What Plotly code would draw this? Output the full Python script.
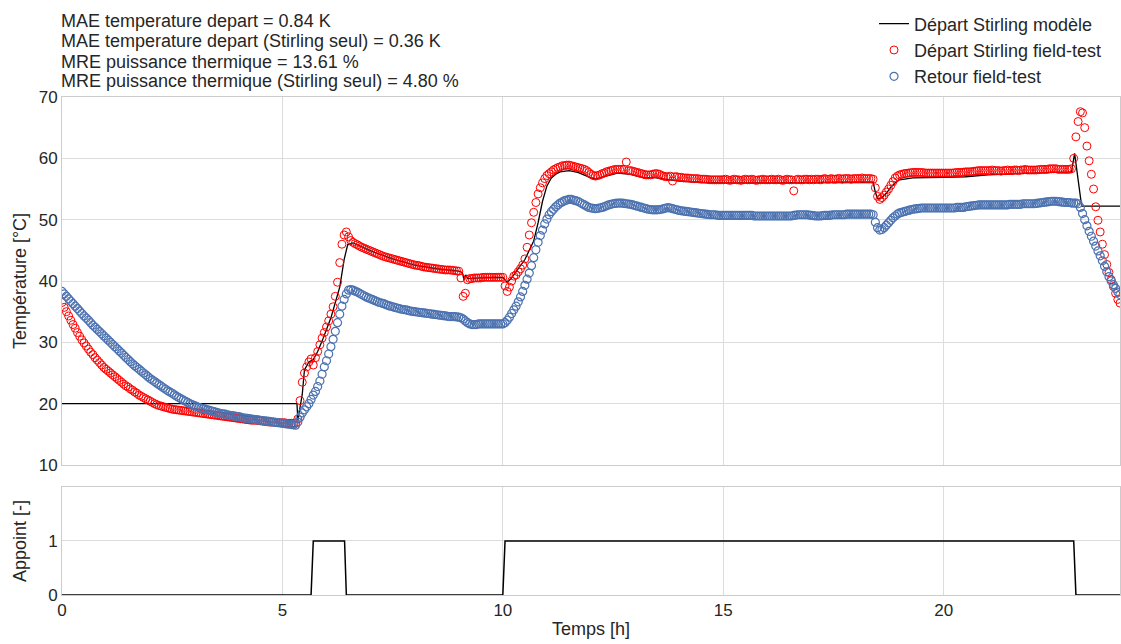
import plotly.graph_objects as go
from plotly.subplots import make_subplots

# ---------------- data ----------------
# sampling times [h] (every 3 minutes)
temps_h = [
    0.00, 0.05, 0.10, 0.15, 0.20, 0.25, 0.30, 0.35, 0.40, 0.45, 0.50, 0.55, 0.60, 0.65, 0.70, 0.75, 0.80, 0.85, 0.90, 0.95,
    1.00, 1.05, 1.10, 1.15, 1.20, 1.25, 1.30, 1.35, 1.40, 1.45, 1.50, 1.55, 1.60, 1.65, 1.70, 1.75, 1.80, 1.85, 1.90, 1.95,
    2.00, 2.05, 2.10, 2.15, 2.20, 2.25, 2.30, 2.35, 2.40, 2.45, 2.50, 2.55, 2.60, 2.65, 2.70, 2.75, 2.80, 2.85, 2.90, 2.95,
    3.00, 3.05, 3.10, 3.15, 3.20, 3.25, 3.30, 3.35, 3.40, 3.45, 3.50, 3.55, 3.60, 3.65, 3.70, 3.75, 3.80, 3.85, 3.90, 3.95,
    4.00, 4.05, 4.10, 4.15, 4.20, 4.25, 4.30, 4.35, 4.40, 4.45, 4.50, 4.55, 4.60, 4.65, 4.70, 4.75, 4.80, 4.85, 4.90, 4.95,
    5.00, 5.05, 5.10, 5.15, 5.20, 5.25, 5.30, 5.35, 5.40, 5.45, 5.50, 5.55, 5.60, 5.65, 5.70, 5.75, 5.80, 5.85, 5.90, 5.95,
    6.00, 6.05, 6.10, 6.15, 6.20, 6.25, 6.30, 6.35, 6.40, 6.45, 6.50, 6.55, 6.60, 6.65, 6.70, 6.75, 6.80, 6.85, 6.90, 6.95,
    7.00, 7.05, 7.10, 7.15, 7.20, 7.25, 7.30, 7.35, 7.40, 7.45, 7.50, 7.55, 7.60, 7.65, 7.70, 7.75, 7.80, 7.85, 7.90, 7.95,
    8.00, 8.05, 8.10, 8.15, 8.20, 8.25, 8.30, 8.35, 8.40, 8.45, 8.50, 8.55, 8.60, 8.65, 8.70, 8.75, 8.80, 8.85, 8.90, 8.95,
    9.00, 9.05, 9.10, 9.15, 9.20, 9.25, 9.30, 9.35, 9.40, 9.45, 9.50, 9.55, 9.60, 9.65, 9.70, 9.75, 9.80, 9.85, 9.90, 9.95,
    10.00, 10.05, 10.10, 10.15, 10.20, 10.25, 10.30, 10.35, 10.40, 10.45, 10.50, 10.55, 10.60, 10.65, 10.70, 10.75, 10.80, 10.85, 10.90, 10.95,
    11.00, 11.05, 11.10, 11.15, 11.20, 11.25, 11.30, 11.35, 11.40, 11.45, 11.50, 11.55, 11.60, 11.65, 11.70, 11.75, 11.80, 11.85, 11.90, 11.95,
    12.00, 12.05, 12.10, 12.15, 12.20, 12.25, 12.30, 12.35, 12.40, 12.45, 12.50, 12.55, 12.60, 12.65, 12.70, 12.75, 12.80, 12.85, 12.90, 12.95,
    13.00, 13.05, 13.10, 13.15, 13.20, 13.25, 13.30, 13.35, 13.40, 13.45, 13.50, 13.55, 13.60, 13.65, 13.70, 13.75, 13.80, 13.85, 13.90, 13.95,
    14.00, 14.05, 14.10, 14.15, 14.20, 14.25, 14.30, 14.35, 14.40, 14.45, 14.50, 14.55, 14.60, 14.65, 14.70, 14.75, 14.80, 14.85, 14.90, 14.95,
    15.00, 15.05, 15.10, 15.15, 15.20, 15.25, 15.30, 15.35, 15.40, 15.45, 15.50, 15.55, 15.60, 15.65, 15.70, 15.75, 15.80, 15.85, 15.90, 15.95,
    16.00, 16.05, 16.10, 16.15, 16.20, 16.25, 16.30, 16.35, 16.40, 16.45, 16.50, 16.55, 16.60, 16.65, 16.70, 16.75, 16.80, 16.85, 16.90, 16.95,
    17.00, 17.05, 17.10, 17.15, 17.20, 17.25, 17.30, 17.35, 17.40, 17.45, 17.50, 17.55, 17.60, 17.65, 17.70, 17.75, 17.80, 17.85, 17.90, 17.95,
    18.00, 18.05, 18.10, 18.15, 18.20, 18.25, 18.30, 18.35, 18.40, 18.45, 18.50, 18.55, 18.60, 18.65, 18.70, 18.75, 18.80, 18.85, 18.90, 18.95,
    19.00, 19.05, 19.10, 19.15, 19.20, 19.25, 19.30, 19.35, 19.40, 19.45, 19.50, 19.55, 19.60, 19.65, 19.70, 19.75, 19.80, 19.85, 19.90, 19.95,
    20.00, 20.05, 20.10, 20.15, 20.20, 20.25, 20.30, 20.35, 20.40, 20.45, 20.50, 20.55, 20.60, 20.65, 20.70, 20.75, 20.80, 20.85, 20.90, 20.95,
    21.00, 21.05, 21.10, 21.15, 21.20, 21.25, 21.30, 21.35, 21.40, 21.45, 21.50, 21.55, 21.60, 21.65, 21.70, 21.75, 21.80, 21.85, 21.90, 21.95,
    22.00, 22.05, 22.10, 22.15, 22.20, 22.25, 22.30, 22.35, 22.40, 22.45, 22.50, 22.55, 22.60, 22.65, 22.70, 22.75, 22.80, 22.85, 22.90, 22.95,
    23.00, 23.05, 23.10, 23.15, 23.20, 23.25, 23.30, 23.35, 23.40, 23.45, 23.50, 23.55, 23.60, 23.65, 23.70, 23.75, 23.80, 23.85, 23.90, 23.95,
    24.00,
]

# Départ Stirling field-test [°C]
depart_field = [
    36.5, 35.7, 35.0, 34.3, 33.6, 32.9, 32.3, 31.6, 31.0, 30.4, 29.9, 29.4, 28.9, 28.4, 28.0, 27.5, 27.1, 26.7, 26.3, 25.9,
    25.6, 25.3, 25.0, 24.7, 24.4, 24.1, 23.8, 23.5, 23.2, 22.9, 22.7, 22.4, 22.2, 21.9, 21.7, 21.4, 21.2, 21.0, 20.8, 20.6,
    20.4, 20.2, 20.0, 19.85, 19.7, 19.6, 19.5, 19.4, 19.3, 19.2, 19.1, 19.05, 19.0, 18.95, 18.9, 18.85, 18.8, 18.75, 18.7, 18.65,
    18.6, 18.55, 18.5, 18.45, 18.4, 18.35, 18.3, 18.25, 18.2, 18.15, 18.1, 18.05, 18.0, 17.95, 17.9, 17.85, 17.8, 17.75, 17.7, 17.65,
    17.6, 17.55, 17.5, 17.45, 17.4, 17.35, 17.3, 17.3, 17.3, 17.25, 17.2, 17.15, 17.1, 17.05, 17.0, 17.0, 17.0, 16.95, 16.9, 16.9,
    16.9, 16.9, 16.8, 16.8, 16.8, 16.8, 16.8, 17.5, 20.5, 23.5, 25.0, 26.0, 26.8, 27.3, 26.3, 27.5, 28.5, 29.6, 30.7, 31.6,
    32.5, 33.5, 34.6, 35.8, 37.5, 39.8, 43.0, 46.0, 47.5, 48.0, 47.2, 46.6, 46.3, 46.1, 45.9, 45.7, 45.5, 45.35, 45.2, 45.05,
    44.9, 44.75, 44.6, 44.45, 44.3, 44.15, 44.0, 43.9, 43.8, 43.7, 43.6, 43.5, 43.4, 43.3, 43.2, 43.1, 43.0, 42.9, 42.8, 42.7,
    42.6, 42.55, 42.5, 42.4, 42.3, 42.25, 42.2, 42.15, 42.1, 42.05, 42.0, 41.95, 41.9, 41.85, 41.8, 41.8, 41.8, 41.75, 41.7, 41.65,
    41.6, 40.5, 37.5, 38.0, 40.2, 40.4, 40.4, 40.5, 40.5, 40.5, 40.5, 40.6, 40.6, 40.6, 40.6, 40.6, 40.6, 40.6, 40.6, 40.6,
    40.6, 39.2, 38.3, 39.0, 40.0, 40.8, 41.0, 41.5, 42.0, 42.6, 43.6, 45.5, 47.5, 49.5, 51.2, 52.8, 54.2, 55.2, 56.0, 56.7,
    57.2, 57.5, 57.8, 58.1, 58.3, 58.5, 58.6, 58.8, 58.8, 58.9, 58.9, 58.8, 58.7, 58.6, 58.5, 58.4, 58.3, 58.2, 58.0, 57.7,
    57.4, 57.2, 57.1, 57.2, 57.3, 57.5, 57.6, 57.8, 57.9, 58.0, 58.1, 58.2, 58.2, 58.2, 58.2, 58.2, 59.4, 58.0, 58.0, 57.9,
    57.8, 57.7, 57.6, 57.5, 57.4, 57.3, 57.3, 57.3, 57.4, 57.5, 57.5, 57.4, 57.2, 57.1, 57.0, 57.0, 57.1, 56.3, 57.0, 57.0,
    56.9, 56.9, 56.8, 56.8, 56.8, 56.75, 56.7, 56.7, 56.7, 56.65, 56.6, 56.6, 56.6, 56.55, 56.5, 56.5, 56.5, 56.5, 56.5, 56.5,
    56.5, 56.6, 56.5, 56.4, 56.5, 56.6, 56.5, 56.5, 56.4, 56.5, 56.6, 56.5, 56.5, 56.6, 56.5, 56.4, 56.5, 56.5, 56.6, 56.5,
    56.5, 56.5, 56.6, 56.5, 56.5, 56.6, 56.5, 56.4, 56.5, 56.6, 56.5, 56.5, 54.7, 56.5, 56.6, 56.5, 56.5, 56.6, 56.6, 56.5,
    56.6, 56.5, 56.6, 56.6, 56.5, 56.6, 56.7, 56.6, 56.6, 56.7, 56.6, 56.6, 56.7, 56.7, 56.6, 56.7, 56.7, 56.7, 56.6, 56.7,
    56.7, 56.7, 56.7, 56.8, 56.7, 56.7, 56.7, 56.7, 56.6, 55.2, 53.8, 53.3, 53.6, 54.0, 54.5, 55.0, 55.6, 56.2, 56.8, 57.1,
    57.3, 57.4, 57.5, 57.55, 57.6, 57.65, 57.7, 57.7, 57.7, 57.7, 57.7, 57.65, 57.6, 57.6, 57.6, 57.6, 57.6, 57.6, 57.6, 57.6,
    57.6, 57.6, 57.6, 57.6, 57.6, 57.65, 57.7, 57.7, 57.7, 57.75, 57.8, 57.8, 57.8, 57.85, 57.9, 57.95, 58.0, 58.0, 58.0, 58.0,
    58.0, 58.0, 58.1, 58.0, 58.0, 58.0, 57.9, 58.0, 58.0, 58.1, 58.0, 58.0, 58.1, 58.1, 58.0, 58.1, 58.1, 58.2, 58.1, 58.1,
    58.1, 58.1, 58.1, 58.15, 58.2, 58.2, 58.2, 58.2, 58.3, 58.3, 58.3, 58.3, 58.2, 58.2, 58.2, 58.2, 58.2, 58.2, 58.3, 60.0,
    63.5, 66.0, 67.6, 67.4, 65.0, 62.0, 59.6, 57.4, 55.0, 52.1, 49.9, 48.0, 46.0, 44.3, 42.7, 41.4, 40.2, 39.1, 38.0, 37.0,
    36.4,
]

# Retour field-test [°C]
retour_field = [
    38.3, 37.9, 37.5, 37.1, 36.7, 36.3, 35.9, 35.5, 35.1, 34.7, 34.3, 33.95, 33.6, 33.2, 32.8, 32.45, 32.1, 31.75, 31.4, 31.05,
    30.7, 30.35, 30.0, 29.65, 29.3, 28.95, 28.6, 28.25, 27.9, 27.55, 27.2, 26.85, 26.5, 26.2, 25.9, 25.6, 25.3, 25.0, 24.7, 24.4,
    24.1, 23.85, 23.6, 23.35, 23.1, 22.85, 22.6, 22.35, 22.1, 21.9, 21.7, 21.45, 21.2, 21.0, 20.8, 20.6, 20.4, 20.2, 20.0, 19.85,
    19.7, 19.55, 19.4, 19.3, 19.2, 19.1, 19.0, 18.9, 18.8, 18.7, 18.6, 18.5, 18.4, 18.35, 18.3, 18.2, 18.1, 18.05, 18.0, 17.95,
    17.9, 17.8, 17.7, 17.65, 17.6, 17.55, 17.5, 17.45, 17.4, 17.35, 17.3, 17.25, 17.2, 17.15, 17.1, 17.05, 17.0, 16.95, 16.9, 16.85,
    16.8, 16.75, 16.7, 16.65, 16.6, 16.55, 16.5, 17.0, 17.8, 18.5, 19.0, 19.5, 20.0, 20.7, 21.4, 22.0, 22.8, 23.7, 24.8, 26.0,
    27.0, 28.1, 29.3, 30.5, 31.8, 33.2, 34.6, 35.9, 37.0, 37.9, 38.5, 38.6, 38.5, 38.35, 38.2, 38.0, 37.8, 37.6, 37.4, 37.25,
    37.1, 36.95, 36.8, 36.65, 36.5, 36.4, 36.3, 36.15, 36.0, 35.9, 35.8, 35.7, 35.6, 35.5, 35.4, 35.35, 35.3, 35.2, 35.1, 35.05,
    35.0, 34.95, 34.9, 34.85, 34.8, 34.75, 34.7, 34.65, 34.6, 34.55, 34.5, 34.45, 34.4, 34.35, 34.3, 34.25, 34.2, 34.2, 34.2, 34.15,
    34.1, 34.0, 33.8, 33.5, 33.2, 33.0, 32.9, 32.9, 32.9, 33.0, 33.0, 33.0, 33.0, 33.0, 33.0, 33.0, 33.0, 33.0, 33.0, 33.0,
    33.0, 33.2, 33.6, 34.1, 34.7, 35.3, 35.9, 36.6, 37.4, 38.3, 39.3, 40.3, 41.3, 42.5, 43.8, 45.1, 46.3, 47.4, 48.3, 49.3,
    50.1, 50.8, 51.3, 51.7, 52.1, 52.4, 52.7, 52.9, 53.1, 53.2, 53.3, 53.3, 53.2, 53.1, 53.0, 52.8, 52.6, 52.4, 52.2, 52.0,
    51.9, 51.85, 51.8, 51.85, 51.9, 52.0, 52.1, 52.25, 52.4, 52.5, 52.6, 52.65, 52.7, 52.7, 52.7, 52.65, 52.6, 52.55, 52.5, 52.4,
    52.3, 52.2, 52.1, 52.0, 51.9, 51.8, 51.7, 51.65, 51.6, 51.6, 51.6, 51.65, 51.7, 51.8, 51.9, 51.95, 51.9, 51.8, 51.7, 51.6,
    51.5, 51.45, 51.4, 51.35, 51.3, 51.25, 51.2, 51.15, 51.1, 51.05, 51.0, 50.95, 50.9, 50.85, 50.8, 50.8, 50.8, 50.75, 50.7, 50.7,
    50.7, 50.7, 50.7, 50.7, 50.7, 50.7, 50.7, 50.7, 50.7, 50.7, 50.7, 50.7, 50.7, 50.7, 50.6, 50.6, 50.6, 50.6, 50.6, 50.6,
    50.6, 50.6, 50.6, 50.6, 50.6, 50.6, 50.6, 50.6, 50.6, 50.6, 50.6, 50.6, 50.7, 50.75, 50.8, 50.8, 50.8, 50.8, 50.8, 50.75,
    50.7, 50.65, 50.6, 50.6, 50.6, 50.65, 50.7, 50.7, 50.7, 50.75, 50.8, 50.8, 50.8, 50.8, 50.8, 50.8, 50.9, 50.9, 50.9, 50.9,
    50.9, 50.9, 50.9, 50.9, 50.9, 50.9, 50.9, 50.9, 50.8, 49.6, 48.7, 48.3, 48.4, 48.7, 49.1, 49.5, 49.9, 50.3, 50.6, 50.9,
    51.1, 51.2, 51.3, 51.4, 51.5, 51.6, 51.7, 51.75, 51.8, 51.85, 51.9, 51.9, 51.9, 51.9, 51.9, 51.9, 51.9, 51.9, 51.9, 51.9,
    51.9, 51.9, 51.9, 51.9, 51.9, 51.9, 52.0, 52.0, 52.0, 52.0, 52.1, 52.15, 52.2, 52.25, 52.3, 52.35, 52.4, 52.4, 52.4, 52.4,
    52.4, 52.4, 52.4, 52.4, 52.4, 52.4, 52.4, 52.4, 52.4, 52.4, 52.5, 52.5, 52.5, 52.5, 52.5, 52.5, 52.6, 52.6, 52.6, 52.6,
    52.6, 52.6, 52.65, 52.7, 52.75, 52.8, 52.85, 52.9, 52.95, 53.0, 53.0, 53.0, 52.95, 52.9, 52.85, 52.8, 52.8, 52.8, 52.7, 52.7,
    52.7, 52.6, 52.0, 51.0, 50.0, 49.0, 48.1, 47.3, 46.5, 45.7, 44.9, 44.1, 43.3, 42.4, 41.5, 40.7, 40.0, 39.4, 38.8, 38.2,
    37.8,
]

# Départ Stirling modèle [°C]
modele_t = [0.0, 5.33, 5.35, 5.45, 5.50, 5.60, 5.70, 5.80, 5.90, 6.00,
            6.10, 6.20, 6.30, 6.40, 6.48, 6.60, 7.00, 7.50, 8.00, 8.50,
            9.00, 9.08, 9.12, 9.16, 9.20, 9.50, 10.00, 10.06, 10.10, 10.20,
            10.30, 10.40, 10.50, 10.60, 10.70, 10.80, 10.90, 11.00, 11.10, 11.20,
            11.30, 11.50, 11.70, 12.00, 12.10, 12.30, 12.60, 12.90, 13.20, 13.40,
            13.60, 13.70, 14.00, 14.50, 15.00, 16.00, 17.00, 18.00, 18.40, 18.45,
            18.50, 18.60, 18.70, 18.80, 18.90, 19.00, 19.30, 20.00, 20.50, 21.00,
            21.50, 22.00, 22.50, 22.90, 22.97, 23.05, 23.10, 23.13, 24.00]
modele_T = [20.0, 20.0, 17.3, 21.5, 25.5, 26.8, 27.2, 28.5, 30.2, 32.0,
            34.0, 36.5, 39.0, 43.5, 45.9, 46.2, 44.9, 43.6, 42.6, 42.0,
            41.6, 41.4, 40.2, 41.0, 40.4, 40.5, 40.6, 40.1, 39.8, 40.5,
            41.5, 42.3, 43.5, 45.0, 46.5, 49.5, 53.0, 55.5, 56.8, 57.4,
            57.8, 58.0, 57.7, 56.8, 56.6, 57.0, 57.6, 57.4, 56.8, 56.9,
            56.7, 56.5, 56.3, 56.1, 56.0, 56.0, 56.0, 56.1, 56.1, 54.5,
            53.4, 53.6, 54.3, 55.3, 56.0, 56.5, 56.8, 56.9, 57.0, 57.3,
            57.5, 57.6, 57.7, 57.8, 60.8, 56.0, 53.0, 52.2, 52.2]

# Appoint [-]
appoint_t = [0.0, 5.65, 5.70, 6.41, 6.45, 10.00, 10.05, 22.95, 23.00, 24.0]
appoint_v = [0, 0, 1, 1, 0, 0, 1, 1, 0, 0]

metrics_text = [
    "MAE temperature depart = 0.84 K",
    "MAE temperature depart (Stirling seul) = 0.36 K",
    "MRE puissance thermique = 13.61 %",
    "MRE puissance thermique (Stirling seul) = 4.80 %",
]

n = min(len(temps_h), len(depart_field), len(retour_field))

# ---------------- figure ----------------
FONT = "Liberation Sans, Arial, sans-serif"
TXT = "#262626"
GRID = "#dcdcdc"
SPINE = "#cccccc"

fig = make_subplots(rows=2, cols=1, shared_xaxes=False)

fig.add_trace(go.Scatter(x=modele_t, y=modele_T, mode="lines",
                         line=dict(color="black", width=1.3),
                         name="Départ Stirling modèle"), row=1, col=1)
fig.add_trace(go.Scatter(x=temps_h[:n], y=depart_field[:n], mode="markers",
                         marker=dict(symbol="circle-open", size=8, color="#ff0000",
                                     line=dict(width=1, color="#ff0000")),
                         name="Départ Stirling field-test"), row=1, col=1)
fig.add_trace(go.Scatter(x=temps_h[:n], y=retour_field[:n], mode="markers",
                         marker=dict(symbol="circle-open", size=8, color="#4c72b0",
                                     line=dict(width=1.2, color="#4c72b0")),
                         name="Retour field-test"), row=1, col=1)
fig.add_trace(go.Scatter(x=appoint_t, y=appoint_v, mode="lines",
                         line=dict(color="black", width=1.5),
                         showlegend=False), row=2, col=1)

axis_common = dict(showgrid=True, gridcolor=GRID, gridwidth=1, showline=True,
                   linecolor=SPINE, linewidth=1, mirror=True, zeroline=False,
                   ticks="", tickfont=dict(family=FONT, size=17, color=TXT))

fig.update_xaxes(**axis_common)
fig.update_yaxes(**axis_common)

fig.update_layout(
    width=1121, height=644,
    margin=dict(l=62, r=1, t=97, b=49, autoexpand=False),
    paper_bgcolor="white", plot_bgcolor="white",
    font=dict(family=FONT, size=18, color=TXT),
    xaxis=dict(domain=[0, 1], range=[0, 24], tickvals=[0, 5, 10, 15, 20],
               showticklabels=False, anchor="y"),
    xaxis2=dict(domain=[0, 1], range=[0, 24], tickvals=[0, 5, 10, 15, 20],
                showticklabels=True, anchor="y2", matches="x",
                title=dict(text="Temps [h]", font=dict(family=FONT, size=18, color=TXT),
                           standoff=2)),
    yaxis=dict(domain=[0.2610, 1], range=[10, 70], tickvals=[10, 20, 30, 40, 50, 60, 70],
               title=dict(text="Température [°C]", font=dict(family=FONT, size=18, color=TXT),
                          standoff=7)),
    yaxis2=dict(domain=[0, 0.2169], range=[0, 2], tickvals=[0, 1],
                title=dict(text="Appoint [-]", font=dict(family=FONT, size=18, color=TXT),
                           standoff=16)),
    legend=dict(x=0.7675, y=1.184, xanchor="left", yanchor="top",
                bgcolor="rgba(0,0,0,0)", borderwidth=0,
                font=dict(family=FONT, size=18, color=TXT), tracegroupgap=0),
    showlegend=True,
)

line_px = [21, 41.5, 61.5, 81]
for txt, py in zip(metrics_text, line_px):
    fig.add_annotation(xref="paper", yref="paper", x=-0.003, y=1 + (97 - py) / 498,
                       xanchor="left", yanchor="middle", showarrow=False,
                       text=txt, font=dict(family=FONT, size=18, color=TXT))

fig.write_html("out.html",
               config={"displayModeBar": False},
               post_script="document.body.style.margin='0';document.body.style.overflow='hidden';")
